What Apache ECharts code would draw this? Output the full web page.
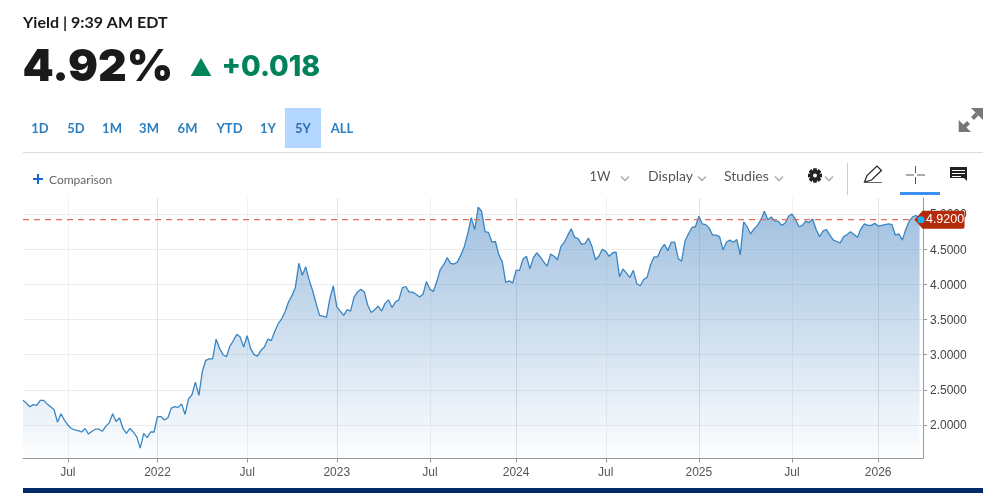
<!DOCTYPE html>
<html><head><meta charset="utf-8">
<style>html,body{margin:0;padding:0;background:#fff}#c{width:999px;height:500px}</style>
<script src="https://cdn.jsdelivr.net/npm/echarts@6/dist/echarts.min.js"></script></head>
<body><div id="c"></div><script>
const y2021=[2.35,2.31,2.26,2.29,2.28,2.35,2.35,2.30,2.26,2.22,2.04,2.16,2.07,2.00,1.95,1.93,1.92,1.90,1.95,1.87,1.91,1.94,1.94,1.91,1.98,2.03,2.16,2.05,2.10,1.95,1.88,1.95,1.90,1.83,1.67,1.88,1.82,1.90,1.90];
const y2022=[2.12,2.12,2.07,2.10,2.24,2.26,2.25,2.30,2.15,2.37,2.43,2.61,2.42,2.76,2.92,2.94,2.94,3.22,3.09,3.00,2.97,3.12,3.20,3.29,3.25,3.11,3.27,3.09,3.00,2.98,3.06,3.11,3.22,3.20,3.33,3.44,3.51,3.61,3.75,3.84,3.96,4.30,4.13,4.25,4.06,3.91,3.73,3.56,3.55,3.53,3.80,3.98];
const y2023=[3.68,3.62,3.56,3.64,3.62,3.82,3.89,3.93,3.89,3.70,3.60,3.64,3.69,3.62,3.73,3.78,3.67,3.75,3.78,3.95,3.97,3.89,3.89,3.86,3.82,3.86,4.04,3.93,3.90,4.04,4.21,4.28,4.38,4.30,4.29,4.32,4.42,4.54,4.73,4.95,4.78,5.10,5.04,4.75,4.74,4.60,4.61,4.42,4.32,4.03,4.05,4.02];
const y2024=[4.20,4.20,4.36,4.40,4.22,4.38,4.45,4.39,4.32,4.26,4.43,4.40,4.35,4.54,4.60,4.70,4.79,4.67,4.65,4.57,4.58,4.66,4.54,4.35,4.40,4.50,4.47,4.40,4.45,4.46,4.11,4.22,4.16,4.10,4.20,4.01,3.98,4.07,4.10,4.28,4.39,4.39,4.50,4.57,4.48,4.60,4.60,4.37,4.33,4.62,4.72,4.81,4.82];
const y2025=[4.97,4.86,4.85,4.80,4.70,4.70,4.68,4.49,4.60,4.63,4.60,4.64,4.42,4.89,4.82,4.72,4.79,4.84,4.92,5.04,4.92,4.96,4.90,4.90,4.84,4.87,4.97,5.00,4.93,4.82,4.84,4.90,4.88,4.93,4.78,4.68,4.76,4.78,4.70,4.63,4.61,4.59,4.68,4.71,4.75,4.71,4.67,4.79,4.86,4.84,4.84,4.87];
const y2026=[4.83,4.84,4.85,4.86,4.85,4.70,4.72,4.63,4.78,4.90,4.96,4.98,4.92];
const yieldValues=[...y2021,...y2022,...y2023,...y2024,...y2025,...y2026];
const tickWeeks=[13,39,65,91,118,143,169,196,223,248];
const tickLabels=['Jul','2022','Jul','2023','Jul','2024','Jul','2025','Jul','2026'];
const yTicks=[2,2.5,3,3.5,4,4.5,5];
const lastValue=4.92;
const categories=Array.from({length:yieldValues.length+1},(_,i)=>{const k=tickWeeks.indexOf(i);return k<0?'':tickLabels[k];});
const lastValueLine=[[0,lastValue],[categories.length-1,lastValue]];
const isTick=(i,v)=>v!=='';
const isYear=(i,v)=>/^\d/.test(v);
const isHalf=(i,v)=>v==='Jul';

const UI='Lato, "Open Sans", sans-serif';
const HEAVY='Inter, Lato, sans-serif';
const ARIAL='"Liberation Sans", Arial, sans-serif';
const txt=(t,x,y,size,color,weight,align,font)=>({type:'text',silent:true,style:{text:t,x,y,fontSize:size,fontFamily:font||UI,fontWeight:weight||400,fill:color,textAlign:align||'left',textVerticalAlign:'middle'}});
const rect=(x,y,w,h,fill)=>({type:'rect',silent:true,shape:{x,y,width:w,height:h},style:{fill}});
const poly=(points,style)=>({type:'polygon',silent:true,shape:{points},style});
const seg=(x1,y1,x2,y2,color,w)=>({type:'line',silent:true,shape:{x1,y1,x2,y2},style:{stroke:color,lineWidth:w}});
const chev=x=>({type:'polyline',silent:true,shape:{points:[[x-4,176.5],[x,180.5],[x+4,176.5]]},style:{stroke:'#aaa',lineWidth:1.5,fill:null}});
const ranges=[['1D',40],['5D',76],['1M',112],['3M',149],['6M',187.5],['YTD',229.5],['1Y',268],['5Y',303],['ALL',342]];
const gear=[];
for(let a=0;a<8;a++){gear.push({type:'rect',silent:true,x:815,y:175.5,rotation:a*Math.PI/4,shape:{x:-1.7,y:-7,width:3.4,height:14},style:{fill:'#222'}});}
gear.push({type:'circle',silent:true,shape:{cx:815,cy:175.5,r:5},style:{fill:'#222'}});
gear.push({type:'circle',silent:true,shape:{cx:815,cy:175.5,r:2},style:{fill:'#fff'}});

const chrome=[
 txt('Yield | 9:39 AM EDT',23,23,16,'#1a1a1a',700),
 txt('4.92%',22.5,68,44.5,'#1a1a1a',900,'left',HEAVY),
 poly([[190.7,76],[211.3,76],[201,58]],{fill:'#00825a'}),
 txt('+0.018',221.5,67.5,28.5,'#00825a',800,'left',HEAVY),
 rect(285,108,36,40,'#b3d7ff'),
 ...ranges.map(r=>txt(r[0],r[1],128.5,13,r[0]==='5Y'?'#2f6fa8':'#2a7fc0',700,'center')),
 rect(23,152,960,1,'#dcdcdc'),
 rect(33,178,10,2,'#1a66d0'),rect(37,174,2,10,'#1a66d0'),
 txt('Comparison',49,180,12,'#666'),
 txt('1W',600,176.5,13,'#555',400,'center'),chev(625),
 txt('Display',648,176.5,14,'#555'),chev(702),
 txt('Studies',724,176.5,14,'#555'),chev(779),
 ...gear,chev(829),
 rect(847,163,1,32,'#ccc'),
 poly([[864.5,182],[867,175.5],[877,166],[881.5,170.5],[871.5,180]],{fill:'#fff',stroke:'#222',lineWidth:1.2}),
 rect(864,182,18,1,'#666'),
 rect(906,174.5,8,1,'#555'),rect(917,174.5,8,1,'#555'),rect(915,166,1,7,'#555'),rect(915,177,1,7,'#555'),
 rect(900,192,40,3,'#3b8ff0'),
 poly([[950,167],[967,167],[967,181],[964,178],[950,178]],{fill:'#222'}),
 rect(952,170,13,1,'#fff'),rect(952,173,13,1,'#fff'),rect(952,176,9,1,'#fff'),
 poly([[971,108],[983,108],[983,120]],{fill:'#777'}),
 poly([[958.7,120],[958.7,132],[971,132]],{fill:'#777'}),
 seg(977,114,972.5,118.5,'#777',4),seg(964.5,126.5,968.5,122.5,'#777',4),
 rect(23,488,960,5,'#002b66'),
];

const chart=echarts.init(document.getElementById('c'));
chart.setOption({
 animation:false,
 graphic:chrome,
 grid:{left:23,right:76,top:198,bottom:41.5,containLabel:false},
 xAxis:[{type:'category',boundaryGap:false,data:categories,
   axisLine:{lineStyle:{color:'#999',width:1}},
   axisTick:{show:true,interval:isTick,length:4,lineStyle:{color:'#999'}},
   axisLabel:{interval:isTick,color:'#555',fontSize:12,fontFamily:ARIAL,margin:8,hideOverlap:false},
   splitLine:{show:true,interval:isHalf,lineStyle:{color:'#f0f0f0',width:1}}},
  {type:'category',boundaryGap:false,data:categories,position:'bottom',
   axisLine:{show:false},axisTick:{show:false},axisLabel:{show:false},
   splitLine:{show:true,interval:isYear,lineStyle:{color:'#e2e2e2',width:1}}}],
 yAxis:{type:'value',position:'right',min:1.523,max:5.229,scale:true,
   axisLine:{show:true,lineStyle:{color:'#999'}},
   axisTick:{show:true,length:4,lineStyle:{color:'#999'},customValues:yTicks},
   axisLabel:{color:'#444',fontSize:12,fontFamily:ARIAL,margin:7,customValues:yTicks,formatter:v=>'{a|'+v.toFixed(4)+'}',rich:{a:{color:'#444',fontSize:12,fontFamily:ARIAL,padding:[2,0,0,0]}}},
   splitLine:{show:true,lineStyle:{color:'#ececec',width:1}}},
 series:[{type:'line',z:5,data:yieldValues,showSymbol:false,symbol:'none',smooth:false,
   lineStyle:{color:'#3a85c2',width:1.3},
   areaStyle:{opacity:1,color:{type:'linear',x:0,y:0,x2:0,y2:1,colorStops:[{offset:0,color:'rgba(82,140,197,0.55)'},{offset:1,color:'rgba(82,140,197,0.01)'}]}},
   markPoint:{silent:true,z:20,data:[
     {coord:[yieldValues.length-1,lastValue],symbol:'path://M8 0 H48 Q50 0 50 2 V16 Q50 18 48 18 H8 L0 9 Z',symbolSize:[50,18],symbolOffset:[20,0],symbolKeepAspect:false,itemStyle:{color:'#b52a0a'},
      label:{show:true,position:'inside',offset:[5.5,0],formatter:()=>lastValue.toFixed(4),color:'#fff',fontSize:12.5,fontFamily:ARIAL}},
     {coord:[yieldValues.length-1,lastValue],symbol:'circle',symbolSize:7,symbolOffset:[1.5,0],itemStyle:{color:'#1ab0f5'},label:{show:false}}
   ]}
 },{type:'line',z:6,data:lastValueLine,showSymbol:false,symbol:'none',silent:true,
   lineStyle:{color:'#e0705a',type:[6,5],width:1.2,opacity:1}}]
});
</script></body></html>
